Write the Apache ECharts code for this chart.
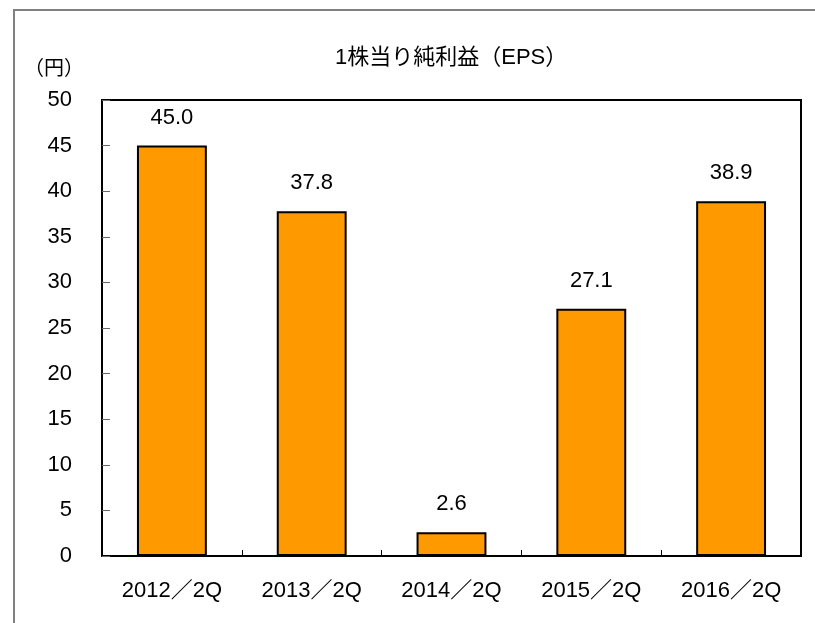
<!DOCTYPE html>
<html>
<head>
<meta charset="utf-8">
<script src="https://cdn.jsdelivr.net/npm/echarts@6/dist/echarts.min.js"></script>
<style>
  html, body { margin: 0; padding: 0; background: #fff; }
  #chart { width: 815px; height: 623px; }
</style>
</head>
<body>
<div id="chart"></div>
<script>
// 基本データ
var categories = ['2012／2Q', '2013／2Q', '2014／2Q', '2015／2Q', '2016／2Q'];
var eps = [45.0, 37.8, 2.6, 27.1, 38.9];

var myChart = echarts.init(document.getElementById('chart'));
var font = '"Liberation Sans", "Noto Sans CJK JP", sans-serif';

var option = {
    backgroundColor: '#fff',
    animation: false,
    textStyle: { fontFamily: font },
    title: {
        text: '1株当り純利益（EPS）',
        left: 330,
        top: 42,
        textStyle: { fontSize: 22, fontWeight: 'normal', color: '#000', fontFamily: font }
    },
    // 外枠
    graphic: [{
        type: 'rect',
        shape: { x: 14, y: 10, width: 820, height: 640 },
        style: { fill: 'none', stroke: '#808080', lineWidth: 2 },
        silent: true
    }],
    grid: {
        left: 102,
        right: 14,
        top: 100,
        bottom: 67,
        show: true,
        borderColor: '#000',
        borderWidth: 2
    },
    xAxis: {
        type: 'category',
        data: categories,
        axisLine: { lineStyle: { color: '#000', width: 2 } },
        axisTick: { show: true, inside: true, length: 6, lineStyle: { color: '#000' } },
        axisLabel: { color: '#000', fontSize: 22, margin: 24, fontFamily: font }
    },
    yAxis: {
        type: 'value',
        name: '（円）',
        nameLocation: 'end',
        nameGap: 21,
        nameTextStyle: { color: '#000', fontSize: 20, align: 'right', padding: [0, 18, 0, 0], fontFamily: font },
        min: 0,
        max: 50,
        interval: 5,
        splitLine: { show: false },
        axisLine: { show: true, lineStyle: { color: '#000', width: 2 } },
        axisTick: { show: true, inside: true, length: 8, lineStyle: { color: '#666' } },
        axisLabel: { color: '#000', fontSize: 22, margin: 30, fontFamily: font }
    },
    series: [{
        type: 'bar',
        data: eps,
        barWidth: '50%',
        itemStyle: { color: '#FF9900', borderColor: '#000', borderWidth: 2 },
        label: {
            show: true,
            position: 'top',
            distance: 17,
            color: '#000',
            fontSize: 22,
            fontFamily: font,
            formatter: function (p) { return p.value.toFixed(1); }
        }
    }]
};

myChart.setOption(option);
</script>
</body>
</html>
